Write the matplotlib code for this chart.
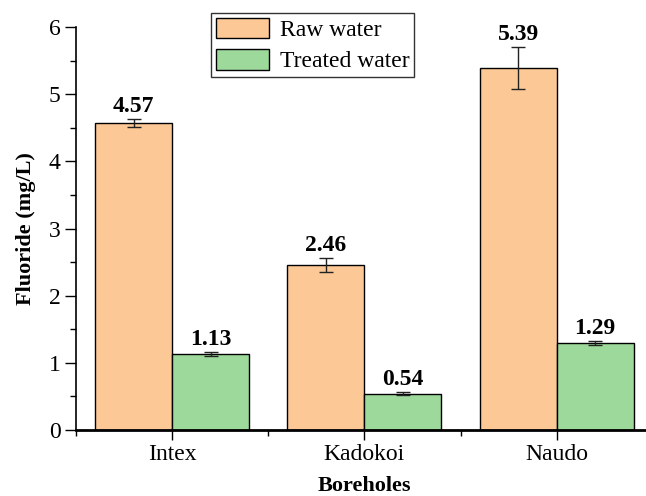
import numpy as np
from matplotlib import pyplot as plt
from matplotlib.ticker import MultipleLocator, FixedLocator

plt.rcParams['font.family'] = ['Liberation Serif', 'DejaVu Serif']

# fluoride levels per borehole
boreholes = ['Intex', 'Kadokoi', 'Naudo']
raw_water = [4.57, 2.46, 5.39]
raw_err = [0.06, 0.10, 0.31]
treated_water = [1.13, 0.54, 1.29]
treated_err = [0.03, 0.02, 0.03]

raw_color = '#FBC896'
treated_color = '#9ED99C'
width = 0.4

fig = plt.figure(figsize=(6.46, 4.96), dpi=100)
ax = fig.add_axes([0.1176, 0.133, 0.893, 0.8125])

x = np.arange(1, len(boreholes) + 1)
ax.bar(x - width / 2, raw_water, width, color=raw_color, edgecolor='black',
       linewidth=1, label='Raw water', zorder=2)
ax.bar(x + width / 2, treated_water, width, color=treated_color, edgecolor='black',
       linewidth=1, label='Treated water', zorder=2)
ax.errorbar(x - width / 2, raw_water, yerr=raw_err, fmt='none', ecolor='#222222',
            elinewidth=1, capsize=5, capthick=1, zorder=3)
ax.errorbar(x + width / 2, treated_water, yerr=treated_err, fmt='none', ecolor='#222222',
            elinewidth=1, capsize=5, capthick=1, zorder=3)

for xs, vals, errs in [(x - width / 2, raw_water, raw_err),
                       (x + width / 2, treated_water, treated_err)]:
    for xi, v, e in zip(xs, vals, errs):
        ax.annotate(f'{v:.2f}', (xi, v + e), xytext=(0, 1.5), textcoords='offset points',
                    ha='center', va='bottom', fontsize=17, fontweight='bold')

ax.set_xlim(0.5, 3.5)
ax.set_ylim(0, 6)
ax.set_xticks(x)
ax.set_xticklabels(boreholes, fontsize=17)
ax.xaxis.set_minor_locator(FixedLocator([0.5, 1.5, 2.5, 3.5]))
ax.yaxis.set_major_locator(MultipleLocator(1))
ax.yaxis.set_minor_locator(MultipleLocator(0.5))
ax.tick_params(axis='y', which='major', labelsize=17, length=8, width=1, pad=3)
ax.tick_params(axis='y', which='minor', length=4, width=1)
ax.tick_params(axis='x', which='major', length=7, width=1, pad=3)
ax.tick_params(axis='x', which='minor', length=4, width=1)

ax.spines['top'].set_visible(False)
ax.spines['right'].set_visible(False)
ax.spines['bottom'].set_linewidth(2)
ax.spines['left'].set_linewidth(1.2)

ax.set_xlabel('Boreholes', fontsize=16, fontweight='bold', labelpad=8)
ax.set_ylabel('Fluoride (mg/L)', fontsize=16, fontweight='bold', labelpad=9)

leg = ax.legend(loc='upper left', bbox_to_anchor=(0.327, 0.974),
                bbox_transform=fig.transFigure, fontsize=17, fancybox=False,
                edgecolor='#333333', framealpha=1, handlelength=2.25, handleheight=0.95,
                borderpad=0.2, labelspacing=0.35, handletextpad=0.45, borderaxespad=0)
leg.get_frame().set_linewidth(1)

fig.savefig('out.png', dpi=100)
